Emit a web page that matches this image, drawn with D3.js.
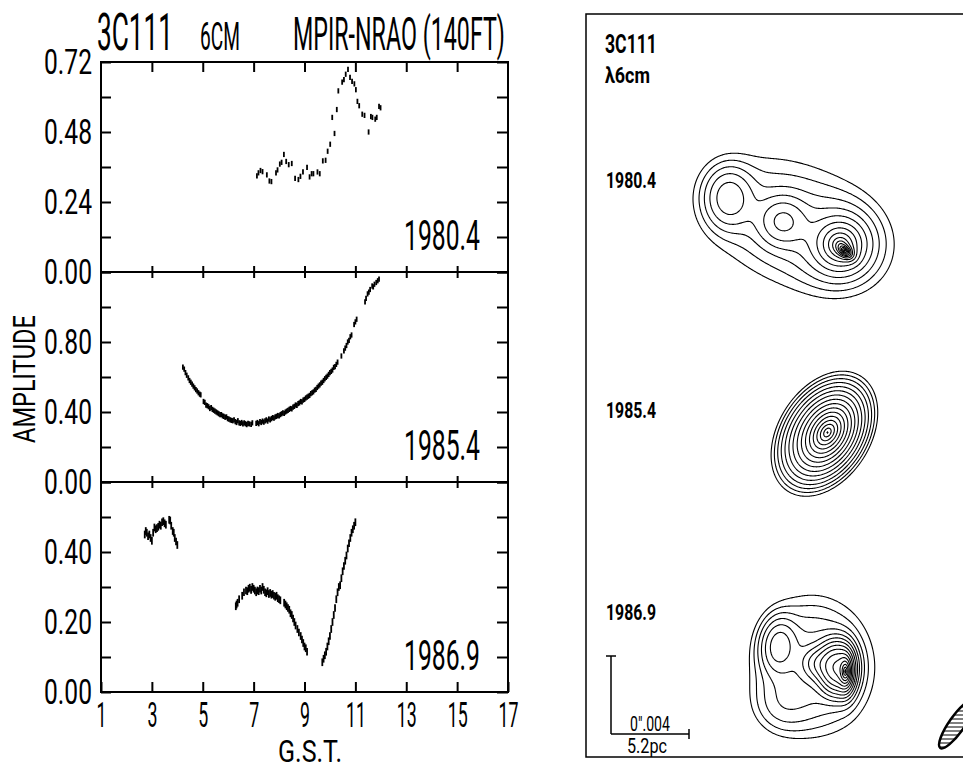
<!DOCTYPE html>
<html>
<head>
<meta charset="utf-8">
<script src="https://cdn.jsdelivr.net/npm/d3@7"></script>
<style>
  body { margin: 0; background: #fff; }
  text { font-family: Roboto, "DejaVu Sans", sans-serif; fill: #000; }
</style>
</head>
<body>
<div id="wrapper"></div>
<script>
// ---- data ----
const xTicks = [1, 3, 5, 7, 9, 11, 13, 15, 17];
const panelYears = ["1980.4", "1985.4", "1986.9"];
const panelYMax = [0.72, 1.2, 0.6];
const panelYStep = [0.12, 0.2, 0.1];
const panelYLabels = [[0, 0.24, 0.48, 0.72], [0, 0.4, 0.8], [0, 0.2, 0.4]];
const panelErr = [0.009, 0.015, 0.011];

// [G.S.T., amplitude]
const obs1980 = [[7.13,0.330],[7.19,0.340],[7.27,0.348],[7.35,0.344],[7.52,0.333],[7.62,0.312],[7.70,0.310],[7.88,0.340],[7.94,0.350],[8.03,0.370],[8.10,0.376],[8.19,0.403],[8.28,0.379],[8.38,0.368],[8.50,0.372],[8.63,0.321],[8.76,0.317],[8.84,0.328],[8.94,0.343],[9.10,0.359],[9.20,0.326],[9.28,0.337],[9.35,0.337],[9.51,0.343],[9.60,0.337],[9.72,0.381],[9.83,0.383],[9.91,0.414],[10.01,0.438],[10.09,0.530],[10.18,0.475],[10.27,0.557],[10.33,0.621],[10.48,0.651],[10.55,0.660],[10.62,0.678],[10.71,0.695],[10.79,0.667],[10.87,0.654],[10.96,0.645],[11.02,0.625],[11.08,0.585],[11.15,0.570],[11.27,0.541],[11.36,0.537],[11.52,0.480],[11.61,0.533],[11.67,0.530],[11.78,0.524],[11.84,0.530],[11.93,0.568],[11.99,0.563]];

const obs1985 = [[4.22,0.657],[4.27,0.645],[4.32,0.625],[4.37,0.610],[4.43,0.595],[4.48,0.580],[4.53,0.570],[4.58,0.560],[4.63,0.548],[4.68,0.538],[4.73,0.528],[4.78,0.520],[4.83,0.510],[4.88,0.502],[4.92,0.498],
  [5.03,0.460],[5.08,0.455],[5.13,0.440],[5.18,0.436],[5.23,0.430],[5.28,0.420],[5.33,0.425],[5.38,0.415],[5.43,0.410],[5.48,0.405],[5.53,0.400],[5.58,0.395],[5.63,0.390],[5.68,0.385],[5.73,0.385],[5.78,0.378],[5.83,0.375],[5.88,0.370],[5.93,0.372],[5.98,0.362],[6.03,0.360],[6.08,0.355],[6.13,0.352],[6.18,0.350],[6.23,0.355],[6.28,0.345],[6.33,0.340],[6.38,0.350],[6.43,0.338],[6.48,0.335],[6.53,0.340],[6.58,0.332],[6.63,0.338],[6.68,0.333],[6.73,0.328],[6.78,0.335],[6.83,0.332],[6.90,0.330],[6.95,0.338],
  [7.10,0.335],[7.15,0.340],[7.20,0.333],[7.25,0.345],[7.30,0.340],[7.35,0.348],[7.40,0.342],[7.45,0.350],[7.50,0.355],[7.55,0.348],[7.60,0.360],[7.65,0.355],[7.70,0.362],[7.75,0.368],[7.80,0.365],[7.85,0.372],[7.90,0.375],[7.95,0.380],[8.00,0.378],[8.05,0.385],[8.10,0.390],[8.15,0.395],[8.20,0.392],[8.25,0.400],[8.30,0.405],[8.35,0.410],[8.40,0.415],[8.45,0.420],[8.50,0.418],[8.55,0.428],[8.60,0.432],[8.65,0.440],[8.70,0.438],[8.75,0.448],[8.80,0.452],[8.85,0.460],[8.90,0.458],[8.95,0.468],[9.00,0.472],[9.05,0.480],[9.10,0.485],[9.15,0.490],[9.20,0.495],[9.25,0.505],[9.30,0.510],[9.35,0.515],[9.40,0.525],[9.45,0.530],[9.50,0.540],[9.55,0.548],[9.60,0.555],[9.65,0.565],[9.70,0.570],[9.75,0.580],[9.80,0.590],[9.85,0.598],[9.90,0.605],[9.95,0.615],[10.00,0.625],[10.05,0.632],[10.10,0.640],[10.15,0.655],[10.20,0.660],[10.25,0.672],[10.30,0.685],
  [10.45,0.720],[10.55,0.750],[10.60,0.765],[10.65,0.780],[10.70,0.800],[10.75,0.810],[10.80,0.830],[10.85,0.840],
  [10.95,0.900],[11.00,0.915],[11.05,0.930],
  [11.38,1.030],[11.42,1.050],[11.48,1.075],[11.53,1.085],[11.58,1.100],[11.66,1.120],[11.70,1.115],[11.75,1.130],[11.82,1.140],[11.88,1.150],[11.93,1.160]];

const obs1986 = [[2.72,0.450],[2.76,0.460],[2.80,0.455],[2.85,0.445],[2.90,0.450],[2.95,0.440],[3.00,0.432],[3.05,0.455],[3.10,0.470],[3.15,0.465],[3.20,0.468],[3.25,0.472],[3.30,0.478],[3.35,0.475],[3.40,0.485],[3.45,0.488],[3.50,0.482],[3.55,0.478],[3.68,0.492],[3.72,0.490],[3.76,0.475],[3.82,0.460],[3.86,0.455],[3.90,0.440],[3.95,0.430],[4.00,0.420],
  [6.30,0.245],[6.33,0.250],[6.37,0.255],[6.43,0.265],[6.55,0.275],[6.62,0.285],[6.70,0.290],[6.75,0.288],[6.80,0.295],[6.85,0.298],[6.90,0.292],[6.95,0.300],[7.00,0.295],[7.05,0.290],[7.10,0.285],[7.15,0.290],[7.20,0.288],[7.25,0.295],[7.30,0.290],[7.35,0.300],[7.40,0.292],[7.45,0.285],[7.50,0.282],[7.55,0.288],[7.60,0.280],[7.65,0.283],[7.70,0.278],[7.75,0.280],[7.80,0.275],[7.85,0.272],[7.90,0.275],[7.95,0.268],[8.00,0.265],[8.05,0.262],
  [8.20,0.255],[8.25,0.250],[8.30,0.245],[8.35,0.240],[8.40,0.235],[8.45,0.225],[8.50,0.220],[8.55,0.210],[8.60,0.200],[8.65,0.190],[8.72,0.180],[8.78,0.170],[8.85,0.160],[8.90,0.150],[8.95,0.140],[9.00,0.130],[9.05,0.125],[9.10,0.115],
  [9.70,0.085],[9.75,0.095],[9.80,0.105],[9.85,0.115],[9.90,0.130],[9.95,0.145],[10.00,0.160],[10.05,0.180],[10.10,0.200],[10.15,0.220],[10.20,0.240],[10.25,0.265],[10.30,0.285],[10.35,0.300],[10.40,0.305],[10.45,0.325],[10.50,0.345],[10.55,0.360],[10.60,0.375],[10.65,0.390],[10.70,0.410],[10.75,0.425],[10.80,0.440],[10.85,0.455],[10.90,0.465],[10.95,0.475],[11.00,0.485]];

const panelObs = [obs1980, obs1985, obs1986];

// VLBI maps: model components [x mas, y mas, peak, major, minor, angle deg, profile]
const comps1980 = [
  [0.26, 0.00, 1.1, 3.60, 2.40, -22, "g"],
  [-2.92, 1.28, 1.9, 0.97, 0.77, 90, "g"],
  [-0.15, 0.05, 2.0, 0.77, 0.77, 0, "g"],
  [2.82, -1.13, 12, 0.64, 0.64, 0, "e"],
  [3.03, -1.44, 80, 0.15, 0.10, -40, "e"]
];
const comps1985 = [
  [0.10, 0.00, 90, 0.56, 0.38, 58, "e"],
  [-0.15, -0.10, 6, 1.44, 0.97, 58, "g"]
];
const comps1986 = [
  [0.05, -0.15, 1.8, 2.25, 1.95, 95, "g"],
  [-1.64, -2.20, 0.6, 1.00, 1.00, 0, "g"],
  [-1.74, 0.87, 2.6, 0.85, 0.55, 85, "g"],
  [0.26, -0.05, 3.0, 0.50, 0.50, 0, "g"],
  [1.23, -0.26, 14, 0.72, 0.50, 90, "g"],
  [1.69, -0.46, 70, 0.31, 0.13, 90, "e"]
];
const mapComps = [comps1980, comps1985, comps1986];
const contourLevels = [0.5, 0.71, 1, 1.41, 2, 2.83, 4, 5.66, 8, 11.3, 16, 22.6, 32, 45.3, 64, 90.5];
const beam = [3.0, 0.8, 35];          // major mas, minor mas, PA deg
const scaleBarMas = 4;                 // 0".004

// ---- layout ----
const dimensions = {
  width: 963,
  height: 769,
  plotLeft: 101,
  plotRight: 508,
  plotTop: 62,
  panelHeight: 210
};

const svg = d3.select("#wrapper")
  .append("svg")
  .attr("width", dimensions.width)
  .attr("height", dimensions.height);

// squeeze a text horizontally to a given width (the lettering is very condensed)
const squeeze = (node, len) => {
  const w = node.getComputedTextLength();
  if (!w) return;
  const k = len / w;
  const x = +node.getAttribute("x") || 0;
  const y = +node.getAttribute("y") || 0;
  const base = node.getAttribute("data-base") || "";
  node.setAttribute("transform", `${base} translate(${x},${y}) scale(${k},1) translate(${-x},${-y})`);
};

const xScale = d3.scaleLinear()
  .domain([1, 17])
  .range([dimensions.plotLeft, dimensions.plotRight]);

const styleAxis = (g) => {
  g.select(".domain").remove();
  g.selectAll(".tick line").attr("stroke", "#000").attr("stroke-width", 2);
  g.attr("font-family", null);
};

panelYears.forEach((year, i) => {
  const top = dimensions.plotTop + i * dimensions.panelHeight;
  const bottom = top + dimensions.panelHeight;
  const yScale = d3.scaleLinear()
    .domain([0, panelYMax[i]])
    .range([bottom, top]);
  const g = svg.append("g");

  const nTicks = Math.round(panelYMax[i] / panelYStep[i]);
  const yTicks = d3.range(0, nTicks + 1).map((k) => +(k * panelYStep[i]).toFixed(2));
  const labelled = (d) => panelYLabels[i].some((v) => Math.abs(v - d) < 1e-6);

  // left axis with labels
  const yAxisLeft = g.append("g")
    .attr("transform", `translate(${dimensions.plotLeft},0)`)
    .call(d3.axisLeft(yScale)
      .tickValues(yTicks)
      .tickSize(-10)
      .tickPadding(9)
      .tickFormat((d) => (labelled(d) ? d3.format(".2f")(d) : "")))
    .call(styleAxis)
    .attr("font-size", 36);
  yAxisLeft.selectAll("text")
    .filter((d) => labelled(d))
    .each(function () { squeeze(this, 48); });

  // right axis
  g.append("g")
    .attr("transform", `translate(${dimensions.plotRight},0)`)
    .call(d3.axisRight(yScale).tickValues(yTicks).tickSize(-11).tickFormat(""))
    .call(styleAxis);

  // top and bottom axes
  const inner = xTicks.slice(1, -1);
  g.append("g")
    .attr("transform", `translate(0,${top})`)
    .call(d3.axisTop(xScale).tickValues(inner).tickSize(i === 0 ? -10 : -6).tickFormat(""))
    .call(styleAxis);

  const last = i === panelYears.length - 1;
  const xAxisBottom = g.append("g")
    .attr("transform", `translate(0,${bottom})`)
    .call(d3.axisBottom(xScale)
      .tickValues(last ? xTicks : inner)
      .tickSize(last ? -10 : -6)
      .tickPadding(10)
      .tickFormat(last ? d3.format("d") : ""))
    .call(styleAxis)
    .attr("font-size", 35);
  if (last) {
    xAxisBottom.selectAll("text")
      .each(function (d) { squeeze(this, String(d).length * 10); });
  }

  // frame
  g.append("rect")
    .attr("x", dimensions.plotLeft)
    .attr("y", top)
    .attr("width", dimensions.plotRight - dimensions.plotLeft)
    .attr("height", dimensions.panelHeight)
    .attr("fill", "none")
    .attr("stroke", "#000")
    .attr("stroke-width", 2);

  // amplitude measurements as short error bars
  g.append("g")
    .selectAll("line")
    .data(panelObs[i])
    .join("line")
    .attr("x1", (d) => xScale(d[0]))
    .attr("x2", (d) => xScale(d[0]))
    .attr("y1", (d) => yScale(d[1] - panelErr[i]))
    .attr("y2", (d) => yScale(d[1] + panelErr[i]))
    .attr("stroke", "#000")
    .attr("stroke-width", 1.8);

  // epoch label
  const lab = g.append("text")
    .attr("x", 480)
    .attr("y", bottom - 22)
    .attr("text-anchor", "end")
    .attr("font-size", 42)
    .text(year);
  squeeze(lab.node(), 76);
});

// plain texts
const addText = (x, y, str, size, len, opts = {}) => {
  const t = svg.append("text")
    .attr("x", x)
    .attr("y", y)
    .attr("font-size", size)
    .attr("text-anchor", opts.anchor || "start")
    .attr("font-weight", opts.weight || "normal")
    .text(str);
  if (opts.transform) t.attr("data-base", opts.transform);
  squeeze(t.node(), len);
  return t;
};

addText(97, 50, "3C111", 52, 76);
addText(200, 50, "6CM", 38, 40);
addText(293, 50, "MPIR-NRAO (140FT)", 46, 212);
addText(0, 0, "AMPLITUDE", 31, 128, { anchor: "middle", transform: "translate(35,379) rotate(-90)" });
addText(310, 762, "G.S.T.", 32, 64, { anchor: "middle" });

// ---- right panel: VLBI maps ----
svg.append("rect")
  .attr("x", 586)
  .attr("y", 14)
  .attr("width", 420)
  .attr("height", 743)
  .attr("fill", "none")
  .attr("stroke", "#000")
  .attr("stroke-width", 1.5);

addText(605, 53, "3C111", 25, 52, { weight: "bold" });
addText(605, 83, "\u03bb6cm", 22, 45, { weight: "bold" });

const pxPerMas = 19.5;
const mapOrigins = [[785, 222], [825, 432], [812, 662]];
const mapLabelY = [188, 418, 620];

const fieldValue = (comps, mx, my) => {
  let v = 0;
  for (const [cx, cy, a, sa, sb, pa, type] of comps) {
    const r = (pa * Math.PI) / 180;
    const dx = mx - cx;
    const dy = my - cy;
    const u = dx * Math.cos(r) + dy * Math.sin(r);
    const w = -dx * Math.sin(r) + dy * Math.cos(r);
    const q = (u / sa) ** 2 + (w / sb) ** 2;
    v += type === "g" ? a * Math.exp(-q / 2) : a * Math.exp(-Math.sqrt(q));
  }
  return v;
};

mapComps.forEach((comps, k) => {
  const [ox, oy] = mapOrigins[k];
  const masX = d3.scaleLinear().domain([-1, 1]).range([ox - pxPerMas, ox + pxPerMas]);
  const masY = d3.scaleLinear().domain([-1, 1]).range([oy + pxPerMas, oy - pxPerMas]);
  const W = 300, H = 220;
  const gx0 = ox - W / 2, gy0 = oy - H / 2;
  const values = new Float64Array(W * H);
  for (let j = 0; j < H; j++) {
    for (let i = 0; i < W; i++) {
      values[j * W + i] = fieldValue(comps, masX.invert(gx0 + i), masY.invert(gy0 + j));
    }
  }
  const contours = d3.contours().size([W, H]).thresholds(contourLevels)(values);
  svg.append("g")
    .attr("transform", `translate(${gx0},${gy0})`)
    .selectAll("path")
    .data(contours)
    .join("path")
    .attr("d", d3.geoPath())
    .attr("fill", "none")
    .attr("stroke", "#000")
    .attr("stroke-width", 1.1);

  addText(606, mapLabelY[k], panelYears[k], 22, 50, { weight: "bold" });
});

// scale bar
const barX = 611, barY = 734;
const barLen = scaleBarMas * pxPerMas;
const bar = svg.append("g").attr("stroke", "#000").attr("stroke-width", 1.5);
bar.append("line").attr("x1", barX).attr("x2", barX).attr("y1", barY - barLen).attr("y2", barY);
bar.append("line").attr("x1", barX - 5).attr("x2", barX + 5).attr("y1", barY - barLen).attr("y2", barY - barLen);
bar.append("line").attr("x1", barX).attr("x2", barX + barLen).attr("y1", barY).attr("y2", barY);
bar.append("line").attr("x1", barX + barLen).attr("x2", barX + barLen).attr("y1", barY - 5).attr("y2", barY + 5);
addText(650, 731, "0\u2033.004", 20, 40, { anchor: "middle" });
addText(647, 753, "5.2pc", 21, 40, { anchor: "middle" });

// restoring beam, hatched
const beamAngle = -(90 - beam[2]);
const rx = (beam[0] * pxPerMas) / 2, ry = (beam[1] * pxPerMas) / 2;
svg.append("clipPath").attr("id", "beamClip")
  .append("ellipse")
  .attr("cx", 957).attr("cy", 724)
  .attr("rx", rx).attr("ry", ry)
  .attr("transform", `rotate(${beamAngle},957,724)`);
svg.append("g")
  .attr("clip-path", "url(#beamClip)")
  .selectAll("line")
  .data(d3.range(695, 756, 4))
  .join("line")
  .attr("x1", 920).attr("x2", 995)
  .attr("y1", (d) => d).attr("y2", (d) => d)
  .attr("stroke", "#000").attr("stroke-width", 1.2);
svg.append("ellipse")
  .attr("cx", 957).attr("cy", 724)
  .attr("rx", rx).attr("ry", ry)
  .attr("transform", `rotate(${beamAngle},957,724)`)
  .attr("fill", "none").attr("stroke", "#000").attr("stroke-width", 2.5);
</script>
</body>
</html>
